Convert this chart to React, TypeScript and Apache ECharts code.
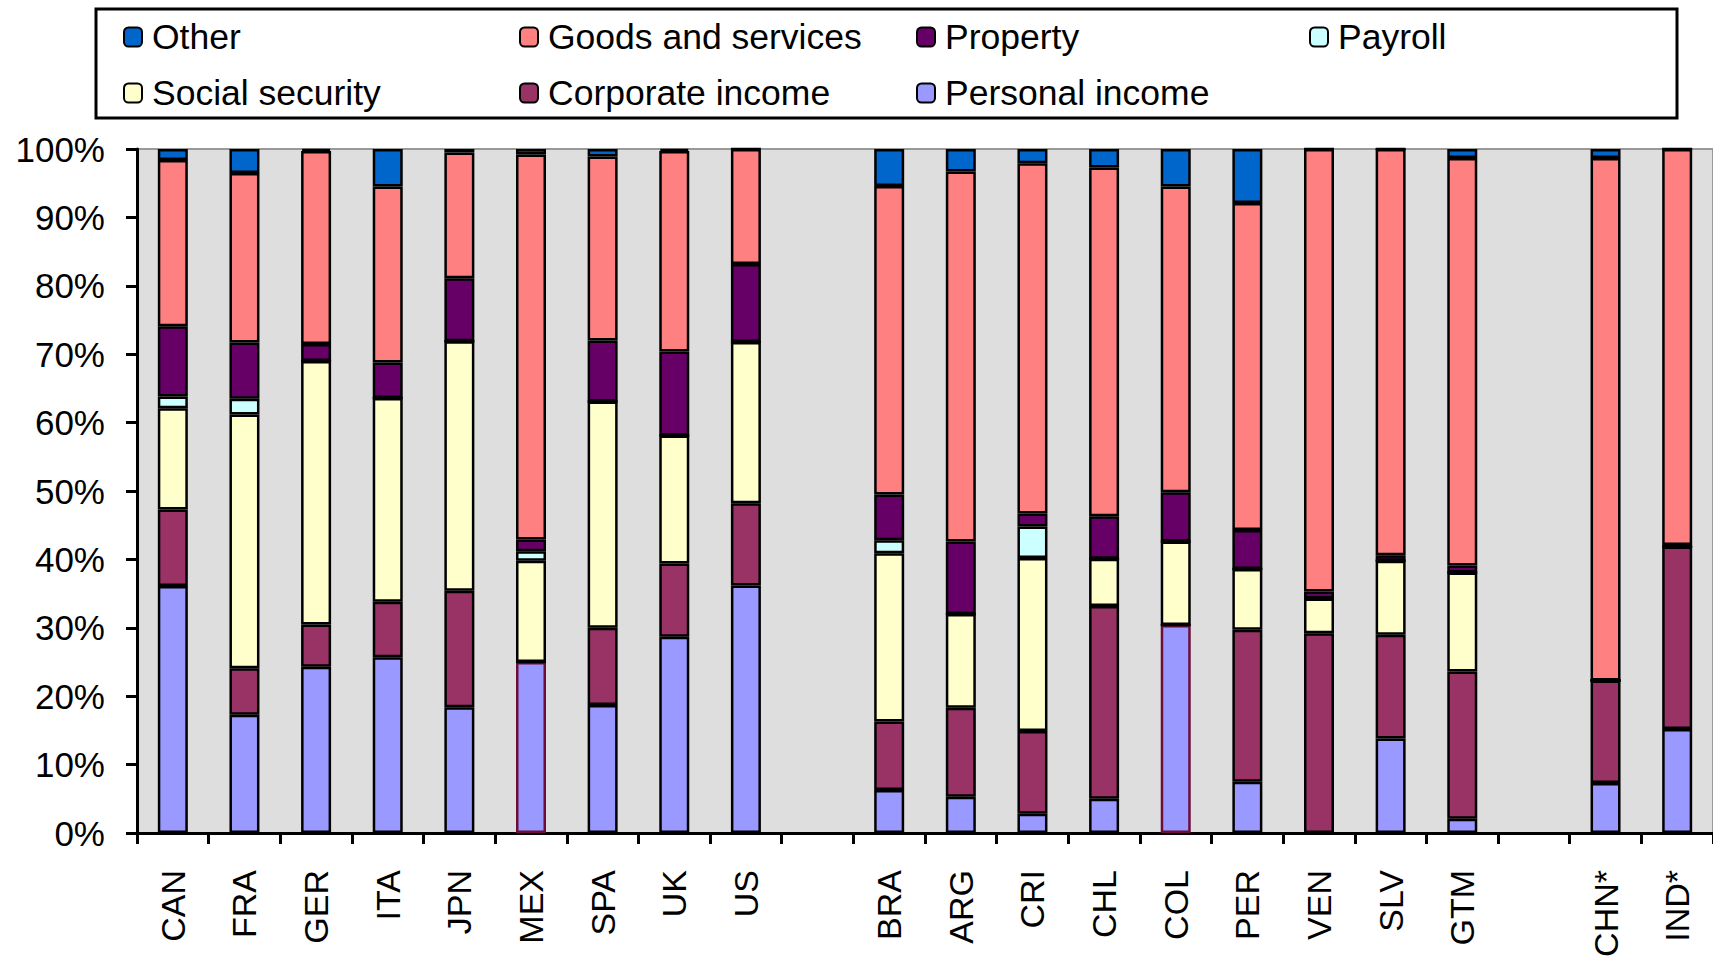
import React, { useEffect, useRef } from "react";
import * as echarts from "echarts";

const categories = ["CAN", "FRA", "GER", "ITA", "JPN", "MEX", "SPA", "UK", "US", " ", "BRA", "ARG", "CRI", "CHL", "COL", "PER", "VEN", "SLV", "GTM", "  ", "CHN*", "IND*"];

const personalIncome = [36.1, 17.3, 24.3, 25.7, 18.4, 25.0, 18.7, 28.7, 36.2, null, 6.3, 5.3, 2.8, 5.0, 30.4, 7.5, 0, 13.8, 2.1, null, 7.3, 15.2];
const corporateIncome = [11.2, 6.8, 6.2, 8.1, 17.0, 0, 11.3, 10.7, 12.0, null, 10.0, 13.0, 12.1, 28.2, 0, 22.2, 29.2, 15.2, 21.5, null, 15.0, 26.7];
const socialSecurity = [14.8, 37.1, 38.5, 29.8, 36.5, 14.8, 33.1, 18.7, 23.6, null, 24.6, 13.7, 25.3, 6.9, 12.2, 8.9, 5.1, 10.8, 14.5, null, 0, 0];
const payroll = [1.7, 2.3, 0, 0, 0, 1.4, 0, 0, 0, null, 1.9, 0, 4.6, 0, 0, 0, 0, 0, 0, null, 0, 0];
const property = [10.3, 8.2, 2.5, 5.2, 9.2, 1.7, 8.9, 12.3, 11.4, null, 6.7, 10.6, 1.9, 6.2, 7.2, 5.7, 1.0, 0.8, 1.0, null, 0, 0.2];
const goodsAndServices = [24.3, 24.8, 28.2, 25.7, 18.4, 56.3, 26.9, 29.3, 16.8, null, 45.1, 54.1, 51.2, 51.0, 44.7, 47.8, 64.7, 59.4, 59.6, null, 76.4, 57.9];
const other = [1.6, 3.5, 0.3, 5.5, 0.5, 0.8, 1.1, 0.3, 0, null, 5.4, 3.3, 2.1, 2.7, 5.5, 7.9, 0, 0, 1.3, null, 1.3, 0];

const yTicks = [0, 10, 20, 30, 40, 50, 60, 70, 80, 90, 100];

const FONT = "'Liberation Sans', Arial, sans-serif";

// categories whose personal-income segment is outlined in maroon in the source
const maroonOutlined = ["MEX", "COL"];

export default function App() {
  const ref = useRef<HTMLDivElement>(null);

  useEffect(() => {
    if (!ref.current) return;
    const chart = echarts.init(ref.current, null, { renderer: "svg" });

    const seriesDefs = [
      { name: "Personal income", data: personalIncome, color: "#9999FF" },
      { name: "Corporate income", data: corporateIncome, color: "#993366" },
      { name: "Social security", data: socialSecurity, color: "#FFFFCC" },
      { name: "Payroll", data: payroll, color: "#CCFFFF" },
      { name: "Property", data: property, color: "#660066" },
      { name: "Goods and services", data: goodsAndServices, color: "#FF8080" },
      { name: "Other", data: other, color: "#0066CC" },
    ];

    const series = seriesDefs.map((s) => ({
      name: s.name,
      type: "bar",
      stack: "total",
      barWidth: 30,
      itemStyle: { color: s.color, borderColor: "#000", borderWidth: 2.5 },
      data: s.data.map((v, i) => {
        if (v === null) return "-";
        if (s.name === "Personal income" && maroonOutlined.includes(categories[i])) {
          return { value: v, itemStyle: { borderColor: "#6b0f3a" } };
        }
        return v;
      }),
    }));

    const legendPos: [string, number, number][] = [
      ["Other", 123, 38],
      ["Goods and services", 519, 38],
      ["Property", 916, 38],
      ["Payroll", 1309, 38],
      ["Social security", 123, 94],
      ["Corporate income", 519, 94],
      ["Personal income", 916, 94],
    ];

    const legends = legendPos.map(([name, x, y]) => ({
      data: [name],
      left: x,
      top: y - 19,
      padding: 0,
      itemWidth: 18,
      itemHeight: 19,
      selectedMode: false,
      textStyle: { fontSize: 35.5, fontFamily: FONT, color: "#000", padding: [0, 0, 0, 5] },
    }));

    chart.setOption({
      animation: false,
      backgroundColor: "#fff",
      legend: legends,
      graphic: [
        {
          type: "rect",
          shape: { x: 96, y: 9, width: 1581, height: 109 },
          style: { fill: "none", stroke: "#000", lineWidth: 3 },
          z: 10,
        },
      ],
      grid: {
        left: 137,
        top: 149,
        width: 1585,
        height: 684,
        show: true,
        backgroundColor: "#dedede",
        borderColor: "#999",
        borderWidth: 2,
      },
      xAxis: {
        type: "category",
        data: categories,
        axisLine: { lineStyle: { color: "#000", width: 3 } },
        axisTick: { show: true, interval: 0, length: 11, lineStyle: { color: "#000", width: 3 } },
        axisLabel: {
          interval: 0,
          rotate: 90,
          margin: 37,
          fontSize: 34,
          fontFamily: FONT,
          color: "#000",
        },
      },
      yAxis: {
        type: "value",
        min: 0,
        max: 100,
        interval: 10,
        axisLine: { show: true, lineStyle: { color: "#000", width: 3 } },
        axisTick: { show: true, length: 11, lineStyle: { color: "#000", width: 3 } },
        splitLine: { show: false },
        axisLabel: {
          margin: 32,
          fontSize: 35,
          fontFamily: FONT,
          color: "#000",
          formatter: (v: number) => (yTicks.includes(v) ? v + "%" : ""),
        },
      },
      series,
    });

    return () => chart.dispose();
  }, []);

  return (
    <div
      ref={ref}
      style={{ position: "absolute", left: 0, top: 0, width: 1713, height: 963 }}
    />
  );
}
